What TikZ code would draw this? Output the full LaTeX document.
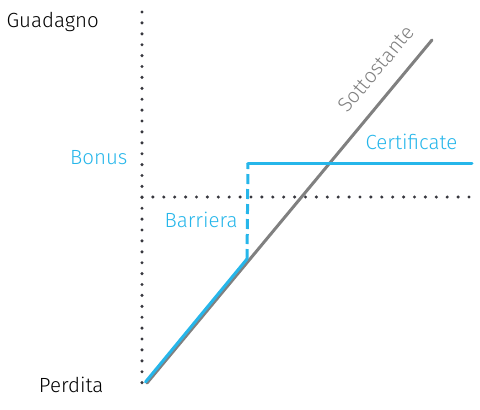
\documentclass[tikz,border=0pt]{standalone}
\usepackage{fontspec}
\setmainfont{Fira Sans Light}
\usepackage{tkz-euclide}
\definecolor{BonusClr}{RGB}{38,182,234}
\definecolor{UnderClr}{RGB}{128,128,128}
\definecolor{AxisClr}{RGB}{55,55,62}
\tikzset{
  axisdots/.style={line width=3.4pt,color=AxisClr,line cap=round,dash pattern=on 0pt off 10.9pt},
  lbl/.style={font=\fontsize{20.5}{24}\selectfont}
}

\begin{document}
\begin{tikzpicture}[x=1pt,y=-1pt]
\tkzDefPoints{0/0/bl,480/410/tr}
\useasboundingbox (bl) rectangle (tr);

\tkzDefPoints{142/12/top,142/383/bot,142/197/hl,470/197/hr}
\tkzDefPoints{147/383/start,432/40/end}
\tkzDefPoints{145.5/382/bstart,247/259/knee,248/163/bonus,472/163/bend}

\draw[axisdots] (top) -- (bot);
\draw[axisdots] (hl) -- (hr);

\tkzDrawSegment[line width=3pt,color=UnderClr](start,end)
\tkzDrawSegment[line width=3pt,color=BonusClr](bstart,knee)
\draw[line width=3pt,color=BonusClr,dash pattern=on 10pt off 5pt] (knee) -- (bonus);
\tkzDrawSegment[line width=3pt,color=BonusClr](bonus,bend)

\node[lbl,anchor=west] (guad) at (3,22) {Guadagno};
\node[lbl,anchor=east] (perd) at (107,385) {Perdita};
\node[lbl,anchor=east,color=BonusClr] (bon) at (131,158) {Bonus};
\node[lbl,anchor=west,color=BonusClr] (barr) at (161,220) {Barriera};
\node[lbl,anchor=west,color=BonusClr] (cert) at (362,142) {Certificate};
\node[lbl,rotate=50.3,color=UnderClr] (sott) at (376,69) {Sottostante};

\end{tikzpicture}
\end{document}
